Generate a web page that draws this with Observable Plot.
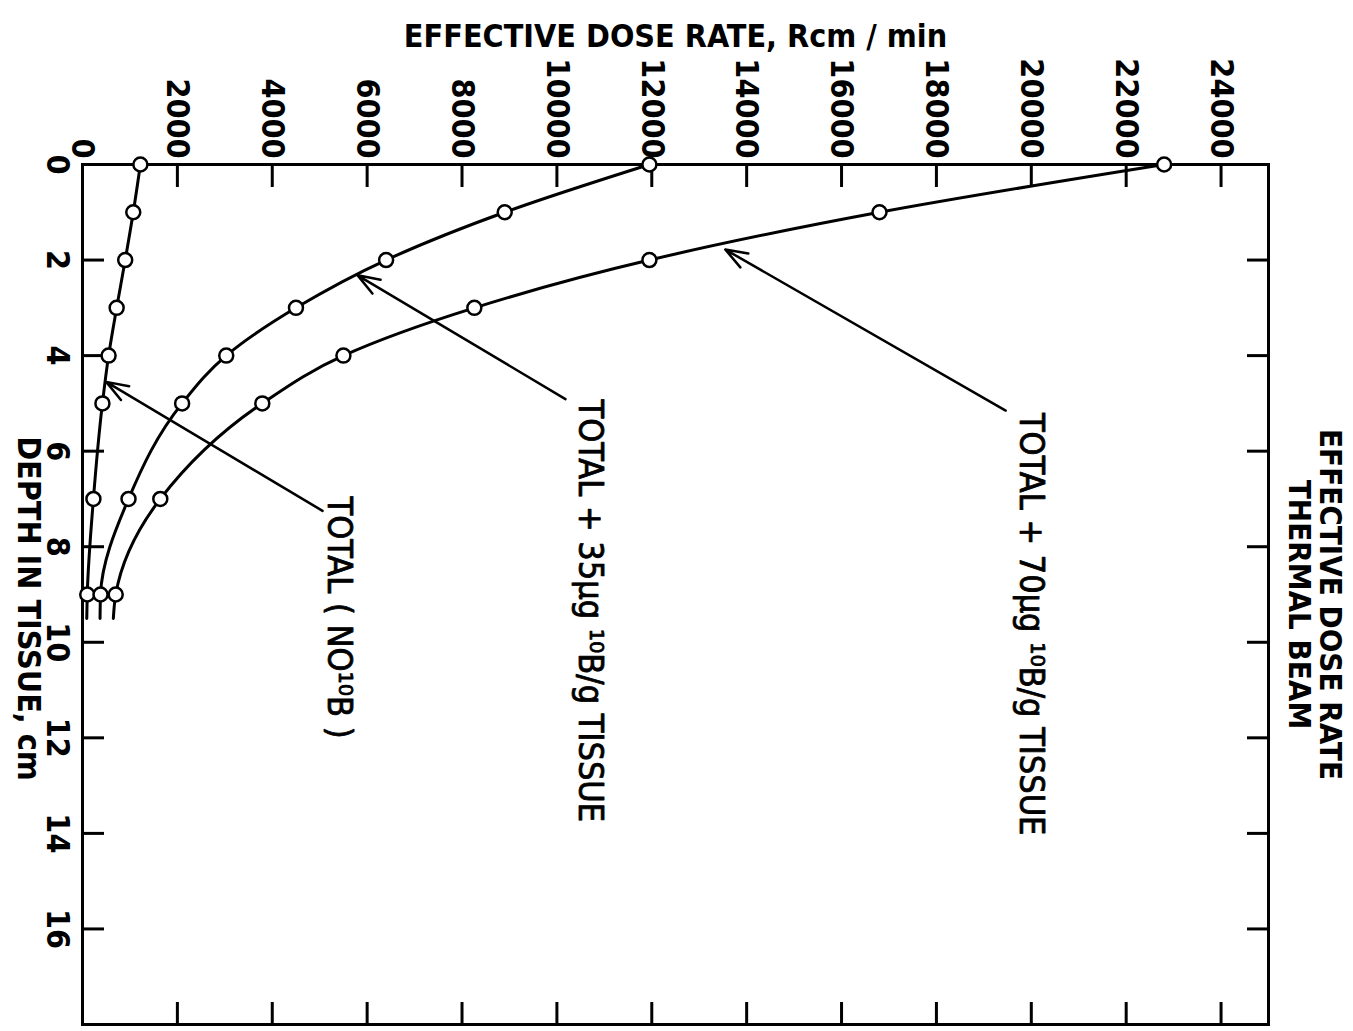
<!DOCTYPE html>
<html><head><meta charset="utf-8">
<script src="https://cdn.jsdelivr.net/npm/d3@7"></script>
<script src="https://cdn.jsdelivr.net/npm/@observablehq/plot@0.6"></script>
<style>html,body{margin:0;padding:0;background:#fff;} svg{display:block}</style>
</head><body><div id="chart"></div>
<script>
// depth in tissue (cm) of the measured points
const depths = [0, 1, 2, 3, 4, 5, 7, 9];
// effective dose rate, Rcm/min
const doseTotal = [1220, 1070, 900, 720, 550, 420, 230, 100];
const dose35 = [11950, 8900, 6400, 4500, 3030, 2100, 970, 380];
const dose70 = [22800, 16800, 11950, 8260, 5500, 3790, 1640, 700];
// short line continuations below the last point
const tailDepth = 9.5;
const tailDose = [90, 370, 650];

const seriesNames = ["TOTAL ( NO\u00B9\u2070B )", "TOTAL + 35\u00B5g \u00B9\u2070B/g TISSUE", "TOTAL + 70\u00B5g \u00B9\u2070B/g TISSUE"];
const labelDose = [5400, 10700, 20000];
const labelDepth = [6.95, 4.92, 5.2];
const arrowFromDose = [5060, 10180, 19460];
const arrowFromDepth = [7.25, 4.91, 5.15];
const arrowToDose = [500, 5800, 13550];
const arrowToDepth = [4.55, 2.32, 1.78];

const doseTicks = [0, 2000, 4000, 6000, 8000, 10000, 12000, 14000, 16000, 18000, 20000, 22000, 24000];
const depthTicks = [0, 2, 4, 6, 8, 10, 12, 14, 16];

const xTitle = "EFFECTIVE DOSE RATE, Rcm / min";
const yTitle = "DEPTH IN TISSUE, cm";
const chartTitle = "EFFECTIVE DOSE RATE\nTHERMAL BEAM";

const seriesDoses = [doseTotal, dose35, dose70];
const points = [];
const lineData = [];
seriesDoses.forEach((arr, s) => {
  arr.forEach((v, i) => {
    points.push({series: seriesNames[s], depth: depths[i], dose: v});
    lineData.push({series: seriesNames[s], depth: depths[i], dose: v});
  });
  lineData.push({series: seriesNames[s], depth: tailDepth, dose: tailDose[s]});
});
const labels = seriesNames.map((t, i) => ({text: t, dose: labelDose[i], depth: labelDepth[i]}));
const arrows = seriesNames.map((t, i) => ({x1: arrowFromDose[i], y1: arrowFromDepth[i], x2: arrowToDose[i], y2: arrowToDepth[i]}));

const font = "'DejaVu Sans Condensed','DejaVu Sans',sans-serif";
const innerDose = doseTicks.filter(d => d > 0);
const innerDepth = depthTicks.filter(d => d > 0);

const plot = Plot.plot({
  width: 1353,
  height: 1031,
  marginTop: 164,
  marginLeft: 82,
  marginRight: 85,
  marginBottom: 7,
  x: {domain: [0, 25000], axis: null},
  y: {domain: [0, 18], reverse: true, axis: null},
  style: {fontFamily: font, background: "white", color: "black"},
  marks: [
    Plot.axisX(innerDose, {anchor: "top", tickSize: -22, strokeWidth: 3, tickFormat: () => "", label: null}),
    Plot.axisX(innerDose, {anchor: "bottom", tickSize: -22, strokeWidth: 3, tickFormat: () => "", label: null}),
    Plot.axisY(innerDepth, {anchor: "left", tickSize: -22, strokeWidth: 3, tickFormat: () => "", label: null}),
    Plot.axisY(innerDepth, {anchor: "right", tickSize: -22, strokeWidth: 3, tickFormat: () => "", label: null}),
    Plot.frame({strokeWidth: 3}),
    Plot.text(doseTicks, {x: d => d, frameAnchor: "top", dy: -6, rotate: 90, textAnchor: "end", lineAnchor: "middle", fontSize: 32, fontWeight: "bold", text: d => String(d)}),
    Plot.text(depthTicks, {y: d => d, frameAnchor: "left", dx: -25, rotate: 90, textAnchor: "middle", lineAnchor: "middle", fontSize: 32, fontWeight: "bold", text: d => String(d)}),
    Plot.text([xTitle], {frameAnchor: "top", dy: -128, textAnchor: "middle", lineAnchor: "middle", fontSize: 32, fontWeight: "bold", letterSpacing: "1px"}),
    Plot.text([yTitle], {frameAnchor: "left", dx: -54, dy: 14, rotate: 90, textAnchor: "middle", lineAnchor: "middle", fontSize: 32, fontWeight: "bold", letterSpacing: "1px"}),
    Plot.text([chartTitle], {frameAnchor: "right", dx: 46, dy: 10, rotate: 90, textAnchor: "middle", lineAnchor: "middle", fontSize: 31, fontWeight: "bold", lineHeight: 1.0, letterSpacing: "2px"}),
    Plot.line(lineData, {x: "dose", y: "depth", z: "series", curve: "monotone-y", stroke: "black", strokeWidth: 3}),
    Plot.arrow(arrows, {x1: "x1", y1: "y1", x2: "x2", y2: "y2", stroke: "black", strokeWidth: 2.5, headLength: 14, headAngle: 40}),
    Plot.dot(points, {x: "dose", y: "depth", r: 7, stroke: "black", strokeWidth: 2.5, fill: "white"}),
    Plot.text(labels, {x: "dose", y: "depth", text: "text", rotate: 90, textAnchor: "start", lineAnchor: "middle", fontSize: 34, fill: "black", stroke: "black", strokeWidth: 0.8})
  ]
});
document.getElementById("chart").appendChild(plot);
</script>
</body></html>
